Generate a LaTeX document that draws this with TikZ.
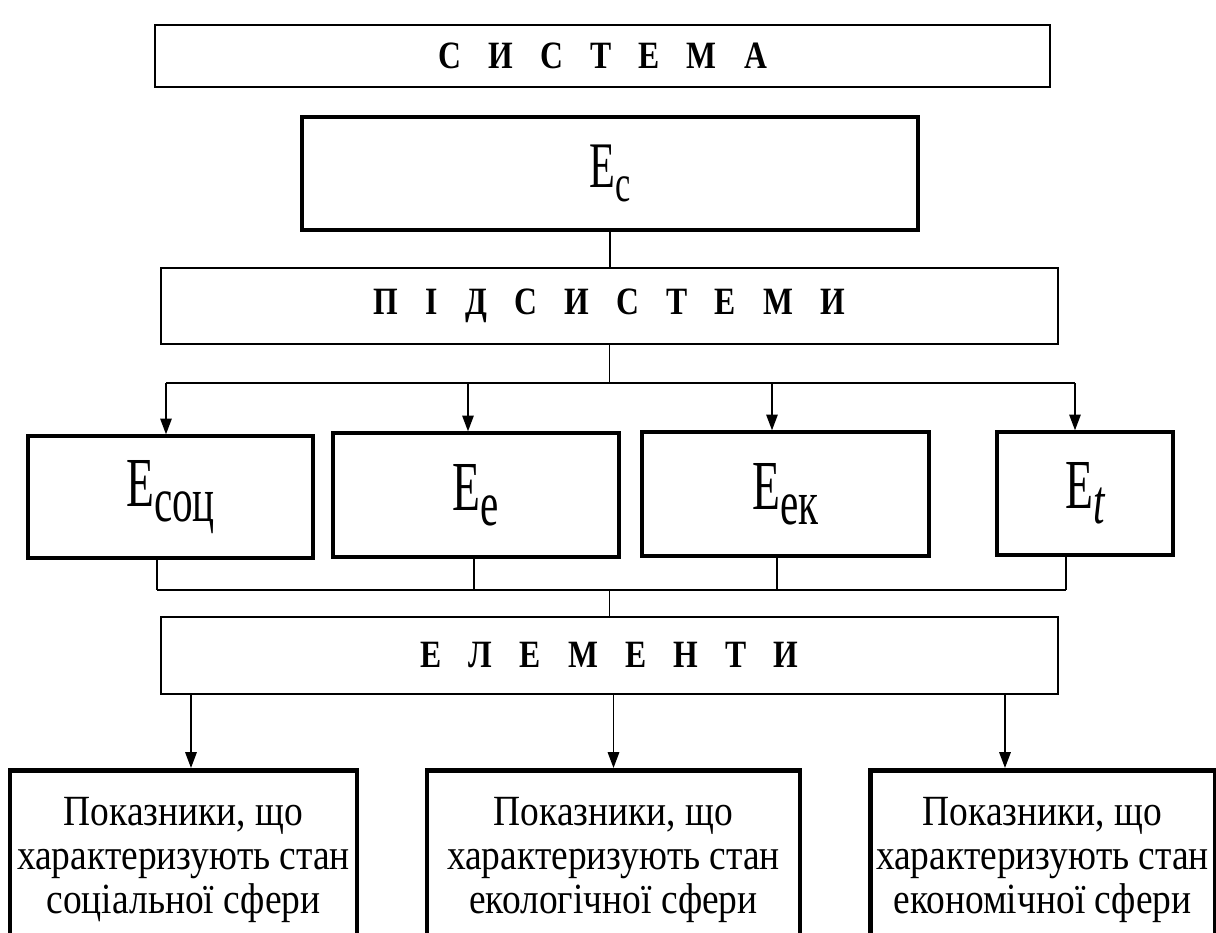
\documentclass[tikz,border=0pt]{standalone}
\usepackage{fontspec}
\setmainfont{Liberation Serif}
\newfontfamily\narrowserif[FakeStretch=0.87]{Liberation Serif}
\newfontfamily\tallserif[FakeStretch=0.65]{Liberation Serif}
\newfontfamily\capserif[FakeStretch=0.82]{Liberation Serif}
\usepackage{tikz}
\usetikzlibrary{positioning, arrows.meta}
\newcommand{\lsp}{\hspace{15.5pt}}
\newcommand{\lowsub}[2][36]{\raisebox{-8.5pt}{\fontsize{#1}{#1}\selectfont #2}}

\begin{document}
\begin{tikzpicture}[
  capbox/.style={draw, line width=1pt, minimum width=17.95cm, minimum height=1.5cm, font=\capserif\fontsize{22}{26}\selectfont\bfseries},
  ebox/.style={draw, line width=1.9pt, minimum height=2.46cm, font=\tallserif\fontsize{40}{40}\selectfont},
  pbox/.style={draw, line width=2.6pt, minimum height=3.6cm, anchor=north, align=center, font=\narrowserif\fontsize{24.5}{25}\selectfont},
  conn/.style={line width=0.8pt},
  bus/.style={line width=1.2pt},
  arr/.style={line width=1pt, -{Triangle[length=9pt,width=6.5pt]}}
]
\useasboundingbox (0,0) rectangle (24.32,-18.66);
\clip (0,0) rectangle (24.32,-18.66);

\node[capbox, minimum width=17.9cm, minimum height=1.24cm] (sys) at (12.05,-1.12) {С\lsp И\lsp С\lsp Т\lsp Е\lsp М\lsp А\hspace{13pt}};
\node[ebox, line width=2.3pt, minimum width=12.32cm, minimum height=2.26cm, font=\tallserif\fontsize{37}{37}\selectfont] (ec) at (12.2,-3.47) {E\lowsub[30]{с}};
\node[capbox, minimum height=1.52cm] (sub) at (12.19,-6.12) {П\lsp І\lsp Д\lsp С\lsp И\lsp С\lsp Т\lsp Е\lsp М\lsp И\hspace{10pt}};

\node[ebox, minimum width=5.7cm, minimum height=2.44cm] (soc) at (3.41,-9.94) {E\lowsub{соц}};
\node[ebox, minimum width=5.72cm, minimum height=2.48cm] (ee) at (9.52,-9.9) {E\lowsub{е}};
\node[ebox, minimum width=5.74cm, minimum height=2.48cm] (eek) at (15.71,-9.88) {E\lowsub{ек}};
\node[ebox, minimum width=3.52cm] (et) at (21.7,-9.87) {E\lowsub{\itshape t}};

\node[capbox, minimum height=1.54cm] (el) at (12.19,-13.11) {Е\lsp Л\lsp Е\lsp М\lsp Е\lsp Н\lsp Т\lsp И\hspace{8pt}};

\node[pbox, minimum width=6.94cm] (p1) at (3.67,-15.36) {Показники, що\\характеризують стан\\соціальної сфери};
\node[pbox, minimum width=7.46cm] (p2) at (12.27,-15.36) {Показники, що\\характеризують стан\\екологічної сфери};
\node[pbox, minimum width=6.82cm] (p3) at (20.85,-15.36) {Показники, що\\характеризують стан\\економічної сфери};

\coordinate (k1) at (3.32,-7.66);
\coordinate (k2) at (9.36,-7.66);
\coordinate (k3) at (15.44,-7.66);
\coordinate (k4) at (21.5,-7.66);
\coordinate (m1) at (3.14,-11.8);
\coordinate (m2) at (9.48,-11.8);
\coordinate (m3) at (15.54,-11.8);
\coordinate (m4) at (21.32,-11.8);
\coordinate (n1) at (3.82,-13.88);
\coordinate (n3) at (20.1,-13.88);

\draw[conn] (ec.south) -- (ec.south |- sub.north);
\draw[conn] (sub.south) -- (sub.south |- k1);
\draw[bus] (k1) -- (k4);
\draw[arr] (k1) -- (k1 |- soc.north);
\draw[arr] (k2) -- (k2 |- ee.north);
\draw[arr] (k3) -- (k3 |- eek.north);
\draw[arr] (k4) -- (k4 |- et.north);

\draw[conn] (m1 |- soc.south) -- (m1);
\draw[conn] (m2 |- ee.south) -- (m2);
\draw[conn] (m3 |- eek.south) -- (m3);
\draw[conn] (m4 |- et.south) -- (m4);
\draw[bus] (m1) -- (m4);
\draw[conn] (el.north |- m1) -- (el.north);

\draw[arr] (n1) -- (n1 |- p1.north);
\draw[arr] (el.south -| p2.north) -- (p2.north);
\draw[arr] (n3) -- (n3 |- p3.north);
\end{tikzpicture}
\end{document}
